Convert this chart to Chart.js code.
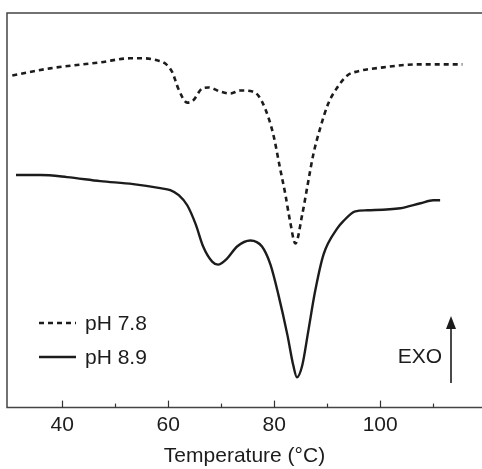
<!DOCTYPE html>
<html>
<head>
<meta charset="utf-8">
<script src="https://cdn.jsdelivr.net/npm/chart.js@4"></script>
<style>
  html, body { margin: 0; padding: 0; background: #fff; }
  #wrap { width: 482px; height: 469px; }
</style>
</head>
<body>
<div id="wrap"><canvas id="dscChart" width="482" height="469"></canvas></div>
<script>
// Dados (fluxo de calor em unidades arbitrárias)
const tempPH78 = [30.6, 37.7, 47.2, 52.8, 55.3, 57.9, 59.4, 60.8, 61.9, 63.6, 64.7, 66.4, 67.6, 69.8, 71.7, 73.6, 75.9, 77.0, 78.3, 79.8, 81.1, 82.1, 83.0, 84.0, 85.3, 86.2, 87.4, 88.7, 90.2, 91.9, 93.8, 95.7, 100.6, 107.0, 115.5];
const heatPH78 = [330, 337, 343, 347, 347, 345, 342, 333, 317, 303, 305, 317, 318, 314, 312, 315, 314, 310, 297, 272, 238, 212, 185, 163, 192, 218, 252, 278, 302, 318, 330, 334, 338, 341, 341];

const tempPH89 = [31.3, 35.9, 40.9, 47.2, 53.4, 58.5, 60.4, 62.0, 63.6, 65.2, 66.6, 68.3, 69.4, 71.1, 73.0, 75.5, 77.7, 79.3, 80.8, 82.5, 83.6, 84.3, 85.3, 86.4, 87.7, 89.3, 91.9, 93.0, 95.3, 97.6, 103.8, 107.6, 110.0, 111.3];
const heatPH89 = [231, 231, 229, 225, 222, 218, 216, 211, 201, 182, 160, 145, 142, 148, 160, 166, 160, 142, 112, 72, 42, 30, 42, 75, 115, 152, 178, 185, 195, 196, 198, 203, 206, 206];

const seriesLabels = ['pH 7.8', 'pH 8.9'];
const majorTicks = [40, 60, 80, 100];
const minorTicks = [50, 70, 90, 110];

const FONT = 'Liberation Sans, Arial, Helvetica, sans-serif';
const INK = '#1c1c1c';

function toPoints(xs, ys) {
    return xs.map((x, i) => ({ x: x, y: ys[i] }));
}

// Moldura, marcas do eixo, legenda e seta EXO
const decorPlugin = {
    id: 'decor',
    afterDraw(chart) {
        const ctx = chart.ctx;
        const area = chart.chartArea;
        const xs = chart.scales.x;

        ctx.save();
        // moldura (esquerda, topo, base)
        ctx.strokeStyle = '#444';
        ctx.lineWidth = 1.5;
        ctx.beginPath();
        ctx.moveTo(chart.width + 2, area.top);
        ctx.lineTo(area.left, area.top);
        ctx.lineTo(area.left, area.bottom);
        ctx.lineTo(chart.width + 2, area.bottom);
        ctx.stroke();

        // marcas para dentro
        ctx.strokeStyle = '#333';
        ctx.lineWidth = 1.2;
        majorTicks.forEach(v => {
            const px = Math.round(xs.getPixelForValue(v)) + 0.5;
            ctx.beginPath();
            ctx.moveTo(px, area.bottom);
            ctx.lineTo(px, area.bottom - 7);
            ctx.stroke();
        });
        minorTicks.forEach(v => {
            const px = Math.round(xs.getPixelForValue(v)) + 0.5;
            ctx.beginPath();
            ctx.moveTo(px, area.bottom);
            ctx.lineTo(px, area.bottom - 4);
            ctx.stroke();
        });

        // legenda
        ctx.font = '21px ' + FONT;
        ctx.fillStyle = INK;
        ctx.textBaseline = 'middle';
        ctx.textAlign = 'left';
        const lx = area.left + 32;
        const rows = [area.top + 310, area.top + 344];
        chart.data.datasets.forEach((ds, i) => {
            ctx.strokeStyle = INK;
            ctx.lineWidth = ds.borderWidth;
            ctx.setLineDash(ds.borderDash || []);
            ctx.beginPath();
            ctx.moveTo(lx, rows[i]);
            ctx.lineTo(lx + 37, rows[i]);
            ctx.stroke();
            ctx.setLineDash([]);
            ctx.fillText(ds.label, lx + 46, rows[i] + 1);
        });

        // EXO com seta
        ctx.textAlign = 'right';
        ctx.fillText('EXO', 442, area.top + 344);
        ctx.strokeStyle = INK;
        ctx.lineWidth = 1.6;
        ctx.beginPath();
        ctx.moveTo(451, area.top + 370);
        ctx.lineTo(451, area.top + 312);
        ctx.stroke();
        ctx.beginPath();
        ctx.moveTo(451, area.top + 303);
        ctx.lineTo(446, area.top + 316);
        ctx.lineTo(456, area.top + 316);
        ctx.closePath();
        ctx.fill();
        ctx.restore();
    }
};

document.addEventListener('DOMContentLoaded', function() {
    const ctx = document.getElementById('dscChart').getContext('2d');
    new Chart(ctx, {
        type: 'line',
        data: {
            datasets: [
                {
                    label: seriesLabels[0],
                    data: toPoints(tempPH78, heatPH78),
                    borderColor: INK,
                    borderWidth: 2.6,
                    borderDash: [5, 4],
                    cubicInterpolationMode: 'monotone',
                    pointRadius: 0,
                    fill: false
                },
                {
                    label: seriesLabels[1],
                    data: toPoints(tempPH89, heatPH89),
                    borderColor: INK,
                    borderWidth: 2.4,
                    cubicInterpolationMode: 'monotone',
                    pointRadius: 0,
                    fill: false
                }
            ]
        },
        options: {
            responsive: false,
            animation: false,
            layout: { padding: { left: 7, top: 13, right: 0, bottom: 0 } },
            plugins: {
                legend: { display: false },
                tooltip: { enabled: false }
            },
            scales: {
                x: {
                    type: 'linear',
                    min: 29.6,
                    max: 119.2,
                    afterBuildTicks: function(axis) {
                        axis.ticks = majorTicks.map(v => ({ value: v }));
                    },
                    grid: { display: false, drawTicks: false },
                    border: { display: false },
                    ticks: {
                        padding: 5,
                        color: INK,
                        font: { size: 21, family: FONT },
                        maxRotation: 0,
                        autoSkip: false
                    },
                    title: {
                        display: true,
                        text: 'Temperature (°C)',
                        color: INK,
                        font: { size: 21, family: FONT },
                        padding: { top: 1, bottom: 0 }
                    }
                },
                y: {
                    display: false,
                    min: 0,
                    max: 392
                }
            }
        },
        plugins: [decorPlugin]
    });
});
</script>
</body>
</html>
